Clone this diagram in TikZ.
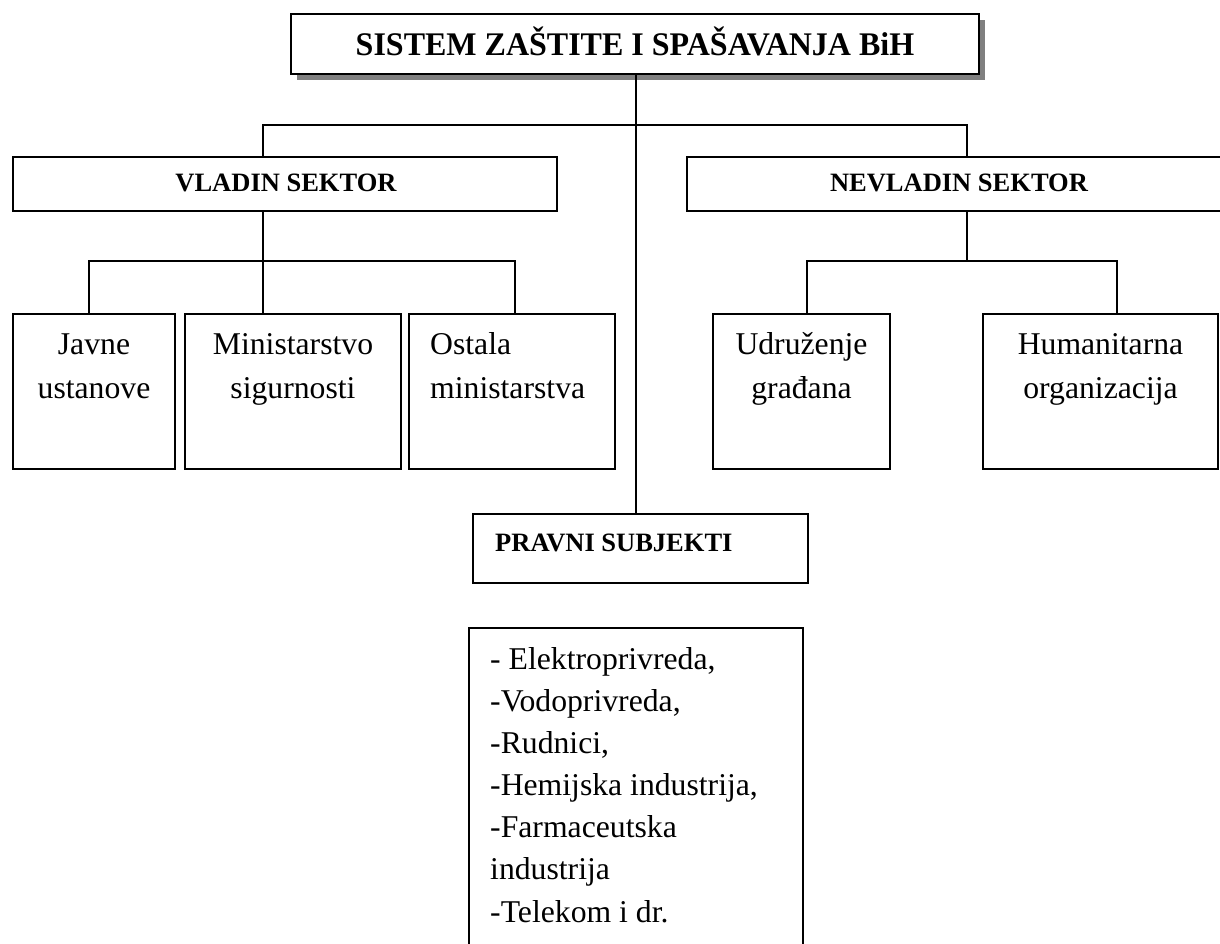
\documentclass[tikz,border=0pt]{standalone}
\usepackage{fontspec}
\setmainfont{Liberation Serif}
\begin{document}
\begin{tikzpicture}[x=1pt,y=-1pt,
  bx/.style 2 args={rectangle, draw=black, line width=1.8pt, fill=white, inner sep=0pt, minimum width=#1, minimum height=#2},
  shadowbox/.style 2 args={rectangle, fill=black!50, inner sep=0pt, minimum width=#1, minimum height=#2},
  conn/.style={draw=black, line width=1.8pt},
  ttl/.style={inner sep=0pt, font=\fontsize{33}{38}\selectfont\bfseries},
  hdr/.style={inner sep=0pt, font=\fontsize{26.5}{32}\selectfont\bfseries},
  txt/.style={inner sep=0pt, font=\fontsize{31.7}{44}\selectfont}]
\useasboundingbox (0,0) rectangle (1220,944);
\clip (0,0) rectangle (1220,944);
% top box with shadow
\node[shadowbox={688pt}{60pt}] (topshadow) at (641,50) {};
\node[bx={688pt}{60pt}] (top) at (635,44) {};
\node[ttl, anchor=base] (toptext) at (635,56) {\scalebox{0.97}[1]{SISTEM ZAŠTITE I SPAŠAVANJA BiH}};
% sectors
\node[bx={544pt}{54pt}] (vladin) at (285,184) {};
\node[hdr, anchor=base] (vladintext) at (286,192) {VLADIN SEKTOR};
\node[bx={544pt}{54pt}] (nevladin) at (959,184) {};
\node[hdr, anchor=base] (nevladintext) at (959,192) {NEVLADIN SEKTOR};
% government children
\node[bx={162pt}{155pt}] (javne) at (94,391.5) {};
\node[txt, anchor=base] (javne1) at (94,354) {Javne};
\node[txt, anchor=base] (javne2) at (94,398) {ustanove};
\node[bx={216pt}{155pt}] (minis) at (293,391.5) {};
\node[txt, anchor=base] (minis1) at (293,354) {Ministarstvo};
\node[txt, anchor=base] (minis2) at (293,398) {sigurnosti};
\node[bx={206pt}{155pt}] (ostala) at (512,391.5) {};
\node[txt, anchor=base west] (ostala1) at (430,354) {Ostala};
\node[txt, anchor=base west] (ostala2) at (430,398) {ministarstva};
% non-government children
\node[bx={177pt}{155pt}] (udr) at (801.5,391.5) {};
\node[txt, anchor=base] (udr1) at (801.5,354) {Udruženje};
\node[txt, anchor=base] (udr2) at (801.5,398) {građana};
\node[bx={235pt}{155pt}] (hum) at (1100.5,391.5) {};
\node[txt, anchor=base] (hum1) at (1100.5,354) {Humanitarna};
\node[txt, anchor=base] (hum2) at (1100.5,398) {organizacija};
% legal subjects
\node[bx={335pt}{69pt}] (pravni) at (640.5,548.5) {};
\node[hdr, anchor=base west] (pravnitext) at (495,551) {PRAVNI SUBJEKTI};
\node[bx={334pt}{340pt}] (list) at (636,798) {};
\node[txt, anchor=base west] (l1) at (490,669) {- Elektroprivreda,};
\node[txt, anchor=base west] (l2) at (490,711) {-Vodoprivreda,};
\node[txt, anchor=base west] (l3) at (490,753) {-Rudnici,};
\node[txt, anchor=base west] (l4) at (490,795) {-Hemijska industrija,};
\node[txt, anchor=base west] (l5) at (490,837) {-Farmaceutska};
\node[txt, anchor=base west] (l6) at (490,879) {industrija};
\node[txt, anchor=base west] (l7) at (490,922) {-Telekom i dr.};
% junction points
\coordinate (jl) at (263,125);
\coordinate (jr) at (967,125);
\coordinate (vj) at (263,261);
\coordinate (vja) at (89,261);
\coordinate (vjc) at (515,261);
\coordinate (nj) at (967,261);
\coordinate (nja) at (807,261);
\coordinate (njb) at (1117,261);
\coordinate (cl) at (636,0);
% connectors
\draw[conn] (cl |- top.south) -- (cl |- pravni.north);
\draw[conn] (jl |- vladin.north) -- (jl) -- (jr) -- (jr |- nevladin.north);
\draw[conn] (vj |- vladin.south) -- (vj |- minis.north);
\draw[conn] (vja |- javne.north) -- (vja) -- (vjc) -- (vjc |- ostala.north);
\draw[conn] (nj |- nevladin.south) -- (nj);
\draw[conn] (nja |- udr.north) -- (nja) -- (njb) -- (njb |- hum.north);
\end{tikzpicture}
\end{document}
